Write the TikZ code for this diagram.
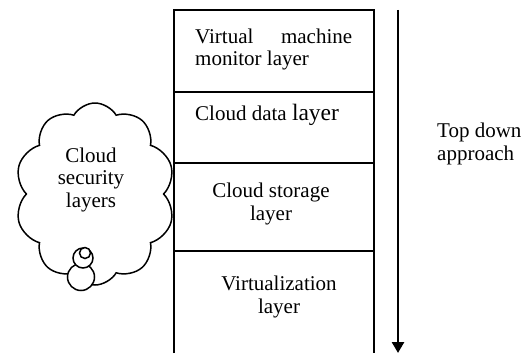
\documentclass[tikz,border=0pt]{standalone}
\usepackage{fontspec}
\setmainfont{Liberation Serif}
\usetikzlibrary{shapes.symbols,arrows.meta}
\begin{document}
\begin{tikzpicture}[x=1pt,y=1pt,
  boxline/.style={line width=1.6pt},
  txt/.style={font=\fontsize{21}{22.5}\selectfont, inner sep=0pt},
  bubble/.style={circle, draw, line width=1.5pt, fill=white, inner sep=0pt}]
\useasboundingbox (0,0) rectangle (526,-353);
% stack of layers
\coordinate (tl) at (174,-10);
\coordinate (tr) at (374,-10);
\coordinate (bl) at (174,-353);
\coordinate (br) at (374,-353);
\coordinate (d1l) at (174,-92);  \coordinate (d1r) at (374,-92);
\coordinate (d2l) at (174,-163); \coordinate (d2r) at (374,-163);
\coordinate (d3l) at (174,-251); \coordinate (d3r) at (374,-251);
\draw[boxline] (bl) -- (tl) -- (tr) -- (br);
\draw[boxline] (d1l) -- (d1r);
\draw[boxline] (d2l) -- (d2r);
\draw[boxline] (d3l) -- (d3r);
\node[txt, anchor=base west, text width=157pt, align=justify] (vmm) at (195,-43) {Virtual machine monitor layer};
\node[txt, anchor=base west] (cdl) at (195,-120) {Cloud data {\fontsize{23.5}{25}\selectfont layer}};
\node[txt, anchor=base, align=center] (csl) at (271,-220) {Cloud storage\\layer};
\node[txt, anchor=base, align=center] (vzl) at (279,-313) {Virtualization\\layer};
% cloud
\node[cloud, draw, line width=1.5pt, cloud puffs=10, cloud puff arc=120, cloud ignores aspect,
      minimum width=160pt, minimum height=182pt] (cloud) at (95,-194) {};
\node[bubble, minimum size=27pt] (b3) at (81,-277) {};
\node[bubble, minimum size=20pt] (b2) at (83,-258) {};
\node[bubble, minimum size=11pt] (b1) at (85,-253) {};
\node[txt, anchor=base, align=center] (cst) at (91,-207) {Cloud\\security\\layers};
% arrow
\coordinate (atop) at (398,-10);
\coordinate (abot) at (398,-353);
\draw[line width=2.6pt, -{Triangle[width=12pt,length=11pt]}] (atop) -- (abot);
\node[txt, anchor=base west, align=left] (tda) at (437,-160) {Top down\\approach};
\end{tikzpicture}
\end{document}
